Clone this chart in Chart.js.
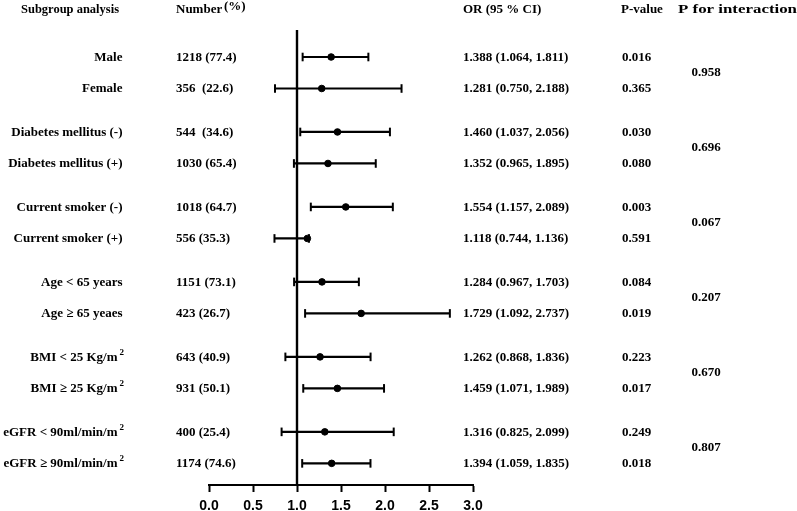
<!DOCTYPE html>
<html>
<head>
<meta charset="utf-8">
<script src="https://cdn.jsdelivr.net/npm/chart.js@4"></script>
<style>
html,body{margin:0;padding:0;background:#fff;}
canvas{display:block;}
.pre{position:absolute;left:-9999px;top:0;}
</style>
</head>
<body>
<span class="pre" style="font:bold 13px 'Liberation Serif'">Subgroup 0.1</span>
<span class="pre" style="font:bold 14px 'Liberation Sans'">0.5 1.0</span>
<canvas id="c" width="797" height="511"></canvas>
<script>
// ---- data ----
const subgroups = ["Male","Female","Diabetes mellitus (-)","Diabetes mellitus (+)","Current smoker (-)","Current smoker (+)","Age < 65 years","Age \u2265 65 yeaes","BMI < 25 Kg/m","BMI \u2265 25 Kg/m","eGFR < 90ml/min/m","eGFR \u2265 90ml/min/m"];
const superscripts = ["","","","","","","","","2","2","2","2"];
const numbers = ["1218 (77.4)","356  (22.6)","544  (34.6)","1030 (65.4)","1018 (64.7)","556 (35.3)","1151 (73.1)","423 (26.7)","643 (40.9)","931 (50.1)","400 (25.4)","1174 (74.6)"];
const orValues = [1.388,1.281,1.460,1.352,1.554,1.118,1.284,1.729,1.262,1.459,1.316,1.394];
const ciLower  = [1.064,0.750,1.037,0.965,1.157,0.744,0.967,1.092,0.868,1.071,0.825,1.059];
const ciUpper  = [1.811,2.188,2.056,1.895,2.089,1.136,1.703,2.737,1.836,1.989,2.099,1.835];
const pValues = ["0.016","0.365","0.030","0.080","0.003","0.591","0.084","0.019","0.223","0.017","0.249","0.018"];
const pInteraction = ["0.958","0.696","0.067","0.207","0.670","0.807"];
const xTicks = [0.0,0.5,1.0,1.5,2.0,2.5,3.0];
const referenceOR = 1.0;
// row positions on the (hidden) vertical axis
const rowPos = [0,1,2.38,3.38,4.76,5.76,7.14,8.14,9.52,10.52,11.9,12.9];

// ---- datasets ----
const datasets = [];
subgroups.forEach((s,i)=>{
  datasets.push({
    type:'line',
    data:[{x:ciLower[i],y:rowPos[i]},{x:ciUpper[i],y:rowPos[i]}],
    borderColor:'#000',
    borderWidth:2.2,
    pointStyle:'line',
    rotation:90,
    pointRadius:4.3,
    pointBorderWidth:2,
    pointBorderColor:'#000',
    fill:false,
    tension:0
  });
});
datasets.push({
  type:'scatter',
  data:orValues.map((v,i)=>({x:v,y:rowPos[i]})),
  backgroundColor:'#000',
  borderColor:'#000',
  pointRadius:3.3,
  pointBorderWidth:1
});

const serif = '"Liberation Serif", "Times New Roman", serif';
const F = (sz)=>"bold "+sz+"px "+serif;

function fitText(ctx, txt, x, y, width){
  const w = ctx.measureText(txt).width;
  ctx.save();
  ctx.translate(x,y);
  ctx.scale(Math.max(0.8,Math.min(1.4,width/w)),1);
  ctx.fillText(txt,0,0);
  ctx.restore();
}

const forestPlugin = {
  id:'forest',
  beforeDatasetsDraw(chart){
    const ctx = chart.ctx, xs = chart.scales.x, a = chart.chartArea;
    const px = xs.getPixelForValue(referenceOR);
    ctx.save();
    ctx.strokeStyle='#000';
    ctx.lineWidth=2.4;
    ctx.beginPath();
    ctx.moveTo(px,a.top);
    ctx.lineTo(px,a.bottom);
    ctx.stroke();
    ctx.restore();
  },
  afterDraw(chart){
    const ctx = chart.ctx, ys = chart.scales.y;
    ctx.save();
    ctx.fillStyle='#000';
    ctx.textBaseline='middle';
    ctx.font=F(13);
    // headers
    ctx.textAlign='left';
    fitText(ctx,"Subgroup analysis",21,10,98);
    ctx.fillText("Number",176,10);
    ctx.fillText("(%)",224,7);
    ctx.fillText("OR (95 % CI)",463,9.5);
    ctx.fillText("P-value",621,9.5);
    fitText(ctx,"P for interaction",678,9.5,119);
    // rows
    subgroups.forEach((s,i)=>{
      const y = ys.getPixelForValue(rowPos[i]) + 0.5;
      ctx.font=F(13);
      ctx.textAlign='right';
      if(superscripts[i]){
        ctx.fillText(s,117.5,y);
        ctx.font=F(9);
        ctx.textAlign='left';
        ctx.fillText(superscripts[i],119.5,y-5);
        ctx.font=F(13);
      } else {
        ctx.fillText(s,122.5,y);
      }
      ctx.textAlign='left';
      ctx.fillText(numbers[i],176,y);
      const ciTxt = orValues[i].toFixed(3)+" ("+ciLower[i].toFixed(3)+", "+ciUpper[i].toFixed(3)+")";
      ctx.fillText(ciTxt,463,y);
      ctx.fillText(pValues[i],622,y);
    });
    ctx.textAlign='center';
    pInteraction.forEach((p,g)=>{
      const y = ys.getPixelForValue((rowPos[2*g]+rowPos[2*g+1])/2);
      ctx.fillText(p,706,y);
    });
    ctx.restore();
  }
};

function build(){
  new Chart(document.getElementById('c'),{
    type:'scatter',
    data:{datasets},
    options:{
      responsive:false,
      animation:false,
      devicePixelRatio:1,
      layout:{padding:{left:209,right:324,top:30,bottom:0}},
      plugins:{legend:{display:false},tooltip:{enabled:false}},
      scales:{
        x:{
          type:'linear',
          min:0,max:3,
          afterBuildTicks(scale){ scale.ticks = xTicks.map(v=>({value:v})); },
          afterFit(scale){ scale.height = 26; },
          ticks:{
            callback:(v)=>Number(v).toFixed(1),
            color:'#000',
            font:{family:'"Liberation Sans", Arial, sans-serif',size:14,weight:'bold'},
            padding:6,
            maxRotation:0,
            autoSkip:false
          },
          grid:{display:true,drawOnChartArea:false,drawTicks:true,tickLength:7,tickWidth:2,tickColor:'#000'},
          border:{display:true,color:'#000',width:2}
        },
        y:{
          type:'linear',
          min:-0.857,max:13.587,
          reverse:true,
          display:false
        }
      }
    },
    plugins:[forestPlugin]
  });
}
Promise.all([
  document.fonts.load('bold 13px "Liberation Serif"'),
  document.fonts.load('bold 14px "Liberation Sans"')
]).then(build, build);
</script>
</body>
</html>
